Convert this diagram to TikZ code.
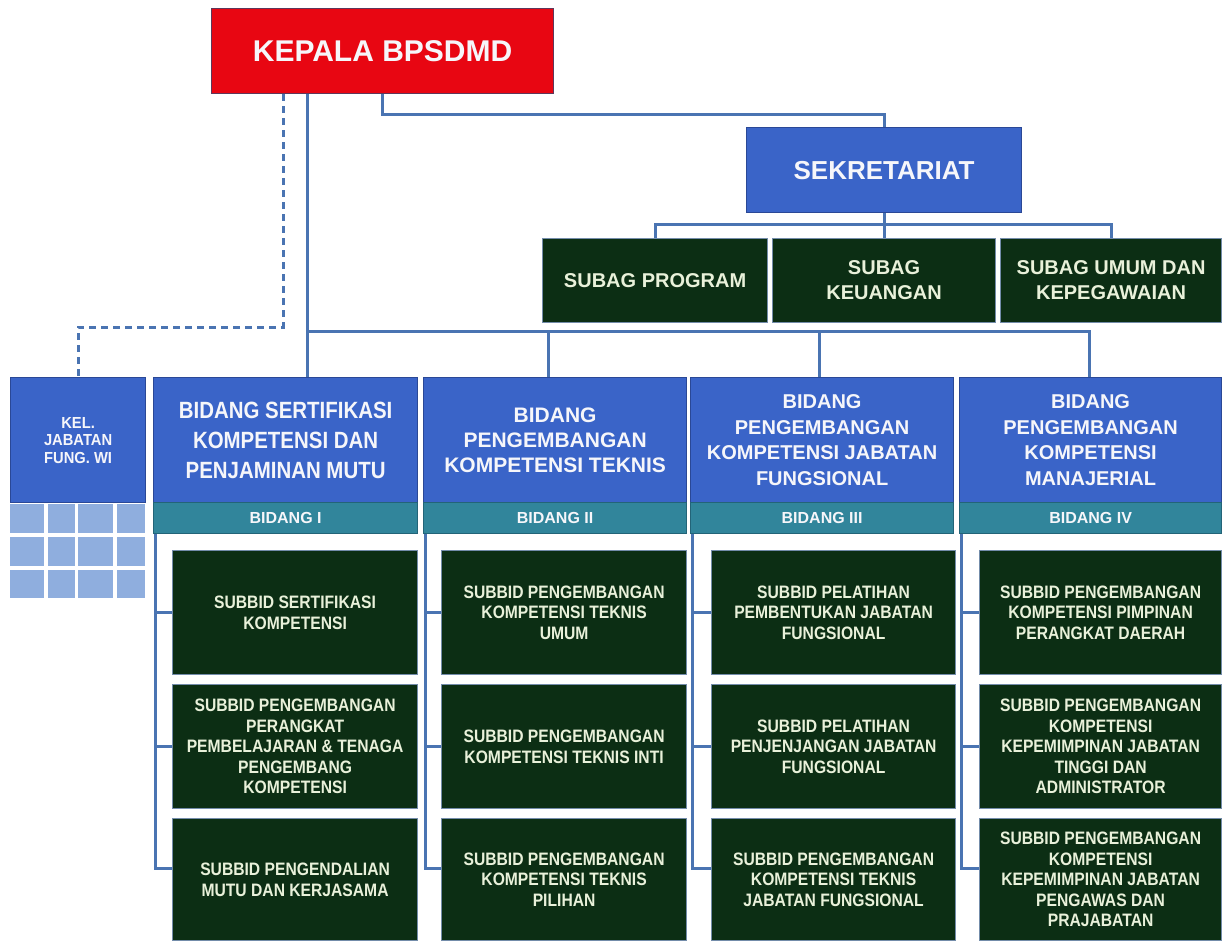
\documentclass[tikz,border=0pt]{standalone}
\usepackage{fontspec}
\setmainfont{Liberation Sans}
\newfontfamily\cnd[FakeStretch=0.87]{Liberation Sans}
\newfontfamily\cndb[FakeStretch=0.92]{Liberation Sans}
\definecolor{kred}{RGB}{232,6,18}
\definecolor{kredb}{RGB}{95,55,90}
\definecolor{bblue}{RGB}{58,100,200}
\definecolor{bblueb}{RGB}{42,72,150}
\definecolor{teal2}{RGB}{49,133,155}
\definecolor{teal2b}{RGB}{35,100,120}
\definecolor{dgreen}{RGB}{12,46,20}
\definecolor{dgreenb}{RGB}{115,140,170}
\definecolor{gridc}{RGB}{143,174,222}
\definecolor{connc}{RGB}{74,116,178}
\definecolor{txtw}{RGB}{246,246,250}
\definecolor{txtg}{RGB}{233,241,218}
\begin{document}
\begin{tikzpicture}[x=1pt,y=-1pt,
  box/.style={rectangle, anchor=north west, inner sep=0pt, align=center, line width=1.2pt},
  redbox/.style={box, draw=kredb, fill=kred, text=txtw, font=\fontsize{30}{34}\selectfont\bfseries},
  bluebox/.style={box, draw=bblueb, fill=bblue, text=txtw},
  stripbox/.style={box, draw=teal2b, fill=teal2, text=txtw, font=\fontsize{16}{18}\selectfont\bfseries},
  greenbox/.style={box, draw=dgreenb, fill=dgreen, text=txtg},
  subagbox/.style={greenbox, font=\fontsize{20}{25}\selectfont\bfseries},
  subbidbox/.style={greenbox, font=\cnd\fontsize{18}{20.5}\selectfont\bfseries},
  cellbox/.style={rectangle, anchor=north west, inner sep=0pt, fill=gridc},
  conn/.style={draw=connc, line width=3pt},
  dconn/.style={draw=connc, line width=3pt, dash pattern=on 7pt off 5pt}
]
\fill[white] (0,0) rectangle (1223,940);
\useasboundingbox (0,0) rectangle (1223,940);

% top level
\node[redbox, minimum width=342pt, minimum height=85pt] (kepala) at (211,8) {KEPALA BPSDMD};
\node[bluebox, minimum width=275pt, minimum height=85pt, font=\fontsize{26}{30}\selectfont\bfseries] (sek) at (746,127) {SEKRETARIAT};

% subag
\node[subagbox, minimum width=225pt, minimum height=84pt] (sp) at (542,238) {SUBAG PROGRAM};
\node[subagbox, minimum width=223pt, minimum height=84pt] (sk) at (772,238) {SUBAG\\KEUANGAN};
\node[subagbox, minimum width=221pt, minimum height=84pt] (su) at (1000,238) {SUBAG UMUM DAN\\KEPEGAWAIAN};

% kel jabatan
\node[bluebox, minimum width=135pt, minimum height=125pt, font=\cndb\fontsize{16}{17.5}\selectfont\bfseries] (kel) at (10,377) {KEL.\\JABATAN\\FUNG. WI};
\foreach \r/\yt/\h in {1/504/29,2/537/29,3/570/28}{
  \foreach \c/\xl/\w in {1/10/34,2/48/27,3/78/35,4/117/28}{
    \node[cellbox, minimum width=\w pt, minimum height=\h pt] (g\r\c) at (\xl,\yt) {};
  }
}

% bidang
\node[bluebox, minimum width=264pt, minimum height=125pt, font=\cnd\fontsize{23.5}{30}\selectfont\bfseries] (b1) at (153,377) {BIDANG SERTIFIKASI\\KOMPETENSI DAN\\PENJAMINAN MUTU};
\node[bluebox, minimum width=263pt, minimum height=125pt, font=\fontsize{21}{25}\selectfont\bfseries] (b2) at (423,377) {BIDANG\\PENGEMBANGAN\\KOMPETENSI TEKNIS};
\node[bluebox, minimum width=263pt, minimum height=125pt, font=\fontsize{20}{25.5}\selectfont\bfseries] (b3) at (690,377) {BIDANG\\PENGEMBANGAN\\KOMPETENSI JABATAN\\FUNGSIONAL};
\node[bluebox, minimum width=262pt, minimum height=125pt, font=\fontsize{20}{25.5}\selectfont\bfseries] (b4) at (959,377) {BIDANG\\PENGEMBANGAN\\KOMPETENSI\\MANAJERIAL};

\node[stripbox, minimum width=264pt, minimum height=31pt] (t1) at (153,502) {BIDANG I};
\node[stripbox, minimum width=263pt, minimum height=31pt] (t2) at (423,502) {BIDANG II};
\node[stripbox, minimum width=263pt, minimum height=31pt] (t3) at (690,502) {BIDANG III};
\node[stripbox, minimum width=262pt, minimum height=31pt] (t4) at (959,502) {BIDANG IV};

% subbid
\node[subbidbox, minimum width=245pt, minimum height=124pt] (s11) at (172,550) {SUBBID SERTIFIKASI\\KOMPETENSI};
\node[subbidbox, minimum width=245pt, minimum height=124pt] (s12) at (172,684) {SUBBID PENGEMBANGAN\\PERANGKAT\\PEMBELAJARAN \& TENAGA\\PENGEMBANG\\KOMPETENSI};
\node[subbidbox, minimum width=245pt, minimum height=122pt] (s13) at (172,818) {SUBBID PENGENDALIAN\\MUTU DAN KERJASAMA};

\node[subbidbox, minimum width=245pt, minimum height=124pt] (s21) at (441,550) {SUBBID PENGEMBANGAN\\KOMPETENSI TEKNIS\\UMUM};
\node[subbidbox, minimum width=245pt, minimum height=124pt] (s22) at (441,684) {SUBBID PENGEMBANGAN\\KOMPETENSI TEKNIS INTI};
\node[subbidbox, minimum width=245pt, minimum height=122pt] (s23) at (441,818) {SUBBID PENGEMBANGAN\\KOMPETENSI TEKNIS\\PILIHAN};

\node[subbidbox, minimum width=244pt, minimum height=124pt] (s31) at (711,550) {SUBBID PELATIHAN\\PEMBENTUKAN JABATAN\\FUNGSIONAL};
\node[subbidbox, minimum width=244pt, minimum height=124pt] (s32) at (711,684) {SUBBID PELATIHAN\\PENJENJANGAN JABATAN\\FUNGSIONAL};
\node[subbidbox, minimum width=244pt, minimum height=122pt] (s33) at (711,818) {SUBBID PENGEMBANGAN\\KOMPETENSI TEKNIS\\JABATAN FUNGSIONAL};

\node[subbidbox, minimum width=242pt, minimum height=124pt] (s41) at (979,550) {SUBBID PENGEMBANGAN\\KOMPETENSI PIMPINAN\\PERANGKAT DAERAH};
\node[subbidbox, minimum width=242pt, minimum height=124pt] (s42) at (979,684) {SUBBID PENGEMBANGAN\\KOMPETENSI\\KEPEMIMPINAN JABATAN\\TINGGI DAN\\ADMINISTRATOR};
\node[subbidbox, minimum width=242pt, minimum height=122pt] (s43) at (979,818) {SUBBID PENGEMBANGAN\\KOMPETENSI\\KEPEMIMPINAN JABATAN\\PENGAWAS DAN\\PRAJABATAN};

% connectors: kepala -> sekretariat
\draw[conn] ([xshift=171pt]kepala.south west) -- ++(0,20) -| (sek.north);
% sekretariat -> subag
\draw[conn] (sek.south) -- (sk.north);
\draw[conn] (sp.north) -- ++(0,-14) -| (su.north);
% kepala -> bidang
\coordinate (kv) at ([xshift=96pt]kepala.south west);
\draw[conn] (kv) -- (kv |- b1.north);
\coordinate (bus) at (kv |- 0,331);
\coordinate (d2) at ([xshift=-7pt]b2.north);
\coordinate (d3) at ([xshift=-3pt]b3.north);
\coordinate (d4) at ([xshift=-1pt]b4.north);
\draw[conn] (bus) -| (d4);
\draw[conn] (bus -| d2) -- (d2);
\draw[conn] (bus -| d3) -- (d3);
% dashed to kel
\draw[dconn] ([xshift=72pt]kepala.south west) |- ([yshift=50pt]kel.north) -- (kel.north);

% bidang -> subbid
\foreach \i in {1,2,3,4}{
  \coordinate (v\i) at ([xshift=2pt]t\i.south west);
  \draw[conn] (v\i) |- ([yshift=11pt]s\i3.west);
  \draw[conn] (v\i |- s\i1.west) -- (s\i1.west);
  \draw[conn] (v\i |- s\i2.west) -- (s\i2.west);
}
\end{tikzpicture}
\end{document}
